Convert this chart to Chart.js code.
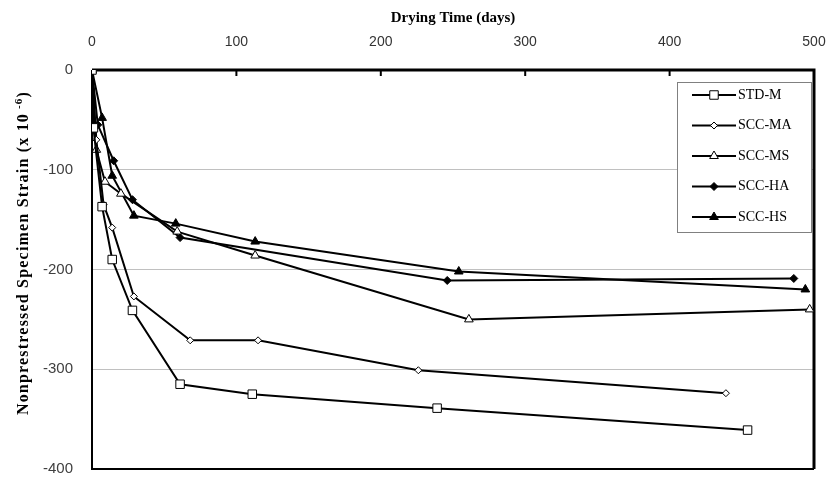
<!DOCTYPE html>
<html>
<head>
<meta charset="utf-8">
<script src="https://cdn.jsdelivr.net/npm/chart.js@4.4.1/dist/chart.umd.min.js"></script>
<style>
  html, body { margin: 0; padding: 0; background: #fff; }
  #wrap { width: 837px; height: 479px; }
</style>
</head>
<body>
<div id="wrap"><canvas id="shrinkageChart" width="837" height="479"></canvas></div>
<script>
'use strict';

// tick labels
var xTickValues = [0, 100, 200, 300, 400, 500];
var yTickValues = [0, -100, -200, -300, -400];

// axis titles
var xTitle = 'Drying Time (days)';
var yTitle = 'Nonprestressed Specimen Strain (x 10';
var yTitleSup = '-6';

// series names
var seriesNames = ['STD-M', 'SCC-MA', 'SCC-MS', 'SCC-HA', 'SCC-HS'];

// drying time (days) and strain (x 10^-6) per series
var stdmDays = [0, 1, 7, 14, 28, 61, 111, 239, 454];
var stdmStrain = [0, -58, -137, -190, -241, -315, -325, -339, -361];

var sccmaDays = [0, 3, 8, 14, 29, 68, 115, 226, 439];
var sccmaStrain = [0, -70, -135, -158, -227, -271, -271, -301, -324];

var sccmsDays = [0, 3, 9, 20, 59, 113, 261, 497];
var sccmsStrain = [0, -80, -112, -124, -162, -186, -250, -240];

var scchaDays = [0, 4, 15, 28, 61, 246, 486];
var scchaStrain = [0, -55, -91, -130, -168, -211, -209];

var scchsDays = [0, 7, 14, 29, 58, 113, 254, 494];
var scchsStrain = [0, -48, -106, -146, -154, -172, -202, -220];

function toPoints(days, strain) {
  return days.map(function (d, i) { return { x: d, y: strain[i] }; });
}

function series(label, days, strain, style, fill, radius) {
  return {
    label: label,
    data: toPoints(days, strain),
    borderColor: '#000',
    borderWidth: 2,
    pointStyle: style,
    pointRadius: radius,
    pointBackgroundColor: fill,
    pointBorderColor: '#000',
    pointBorderWidth: 1,
    tension: 0,
    fill: false
  };
}

var datasets = [
  series(seriesNames[0], stdmDays, stdmStrain, 'rect', '#fff', 6),
  series(seriesNames[1], sccmaDays, sccmaStrain, 'rectRot', '#fff', 3.5),
  series(seriesNames[2], sccmsDays, sccmsStrain, 'triangle', '#fff', 5),
  series(seriesNames[3], scchaDays, scchaStrain, 'rectRot', '#000', 4),
  series(seriesNames[4], scchsDays, scchsStrain, 'triangle', '#000', 5)
];

// plot frame + inward ticks on the top axis
var framePlugin = {
  id: 'frame',
  beforeDatasetsDraw: function (chart) {
    var ctx = chart.ctx;
    var a = chart.chartArea;
    var xs = chart.scales.x;
    ctx.save();
    ctx.strokeStyle = '#000';
    ctx.lineWidth = 2;
    ctx.beginPath();
    ctx.moveTo(a.left, a.top);
    ctx.lineTo(a.left, a.bottom);
    ctx.lineTo(a.right, a.bottom);
    ctx.stroke();
    ctx.lineWidth = 3;
    ctx.beginPath();
    ctx.moveTo(a.left, a.top);
    ctx.lineTo(a.right, a.top);
    ctx.lineTo(a.right, a.bottom);
    ctx.stroke();
    ctx.lineWidth = 2;
    xTickValues.forEach(function (v) {
      var px = xs.getPixelForValue(v);
      ctx.beginPath();
      ctx.moveTo(px, a.top);
      ctx.lineTo(px, a.top + 6);
      ctx.stroke();
    });
    ctx.restore();
  }
};

// y title with a raised exponent, letter-spaced like the original
var yTitlePlugin = {
  id: 'yTitle',
  afterDraw: function (chart) {
    var ctx = chart.ctx;
    var main = 'bold 16px "Liberation Serif", "Times New Roman", serif';
    var sup = 'bold 11px "Liberation Serif", "Times New Roman", serif';
    ctx.save();
    ctx.letterSpacing = '1.2px';
    ctx.font = main;
    var w1 = ctx.measureText(yTitle).width;
    var w3 = ctx.measureText(')').width;
    ctx.font = sup;
    var w2 = ctx.measureText(' ' + yTitleSup).width;
    var total = w1 + w2 + w3;
    ctx.translate(24, 253);
    ctx.rotate(-Math.PI / 2);
    ctx.fillStyle = '#000';
    ctx.textBaseline = 'middle';
    ctx.textAlign = 'left';
    var x0 = -total / 2;
    ctx.font = main;
    ctx.fillText(yTitle, x0, 0);
    ctx.font = sup;
    ctx.fillText(' ' + yTitleSup, x0 + w1, -5);
    ctx.font = main;
    ctx.fillText(')', x0 + w1 + w2, 0);
    ctx.restore();
  }
};

// boxed legend inside the plot, top right
var legendPlugin = {
  id: 'boxLegend',
  afterDraw: function (chart) {
    var ctx = chart.ctx;
    var a = chart.chartArea;
    var w = 134, h = 150;
    var left = a.right - 3 - w;
    var top = a.top + 12;
    ctx.save();
    ctx.fillStyle = '#fff';
    ctx.fillRect(left, top, w, h);
    ctx.strokeStyle = '#808080';
    ctx.lineWidth = 1;
    ctx.strokeRect(left + 0.5, top + 0.5, w, h);
    chart.data.datasets.forEach(function (ds, i) {
      var y = top + 13 + i * 30.5;
      ctx.strokeStyle = '#000';
      ctx.lineWidth = 2;
      ctx.beginPath();
      ctx.moveTo(left + 15, y);
      ctx.lineTo(left + 59, y);
      ctx.stroke();
      ctx.fillStyle = ds.pointBackgroundColor;
      ctx.strokeStyle = '#000';
      ctx.lineWidth = 1;
      Chart.helpers.drawPoint(ctx, {
        pointStyle: ds.pointStyle,
        radius: ds.pointRadius,
        rotation: 0,
        borderWidth: 1
      }, left + 37, y);
      ctx.fillStyle = '#000';
      ctx.font = '14px "Liberation Serif", serif';
      ctx.textBaseline = 'middle';
      ctx.textAlign = 'left';
      ctx.fillText(ds.label, left + 61, y);
    });
    ctx.restore();
  }
};

var ctx = document.getElementById('shrinkageChart').getContext('2d');
var shrinkageChart = new Chart(ctx, {
  type: 'line',
  data: { datasets: datasets },
  plugins: [framePlugin, yTitlePlugin, legendPlugin],
  options: {
    responsive: false,
    animation: false,
    layout: { padding: { left: 0, right: 23, top: 0, bottom: 10 } },
    plugins: {
      legend: { display: false },
      tooltip: { enabled: false }
    },
    scales: {
      x: {
        type: 'linear',
        position: 'top',
        min: 0,
        max: 500,
        afterBuildTicks: function (scale) {
          scale.ticks = xTickValues.map(function (v) { return { value: v }; });
        },
        afterFit: function (scale) { scale.height = 70; },
        border: { display: false },
        grid: { display: false, drawTicks: true, tickLength: 19 },
        ticks: {
          padding: 0,
          color: '#333',
          font: { family: '"Liberation Sans", Arial, sans-serif', size: 14 }
        },
        title: {
          display: true,
          text: xTitle,
          color: '#000',
          padding: { top: 9, bottom: 0 },
          font: { family: '"Liberation Serif", "Times New Roman", serif', size: 15, weight: 'bold' }
        }
      },
      y: {
        type: 'linear',
        min: -400,
        max: 0,
        afterBuildTicks: function (scale) {
          scale.ticks = yTickValues.map(function (v) { return { value: v }; });
        },
        afterFit: function (scale) { scale.width = 92; },
        border: { display: false },
        grid: { color: '#c0c0c0', lineWidth: 1, drawTicks: true, tickLength: 19, tickColor: 'rgba(0,0,0,0)' },
        ticks: {
          padding: 0,
          color: '#404040',
          font: { family: '"Liberation Sans", Arial, sans-serif', size: 15 }
        },
        title: { display: false }
      }
    }
  }
});
</script>
</body>
</html>
